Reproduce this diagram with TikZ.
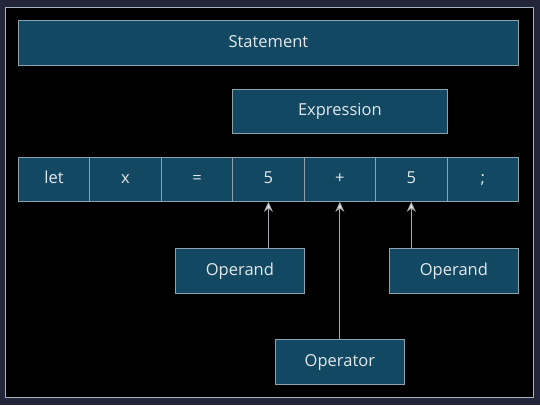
\documentclass[tikz,border=0pt]{standalone}
\usepackage{fontspec}
\setmainfont{Open Sans}
\usetikzlibrary{arrows.meta}
\definecolor{outerbg}{HTML}{23263A}
\definecolor{boxfill}{HTML}{134862}
\definecolor{boxline}{HTML}{8FA3AE}
\definecolor{txt}{HTML}{E2E8EC}
\definecolor{arr}{HTML}{A8ACB0}
\begin{document}
\begin{tikzpicture}[x=1pt,y=-1pt,
  box/.style={draw=boxline, fill=boxfill, line width=0.8pt, text=txt, font=\fontsize{16.5}{19}\selectfont, inner sep=0pt, text height=11.5pt, text depth=2.5pt, anchor=north west},
  arrowline/.style={draw=arr, line width=0.9pt, -{Stealth[length=10pt,width=9pt,fill=txt]}}]
\fill[outerbg] (0,0) rectangle (540,405);
\useasboundingbox (0,0) rectangle (540,405);
\draw[fill=black, draw=boxline!80, line width=0.6pt] (5,7) rectangle (533,397);
\node[box, minimum width=500pt, minimum height=45pt] (stmt) at (18,20) {Statement};
\node[box, minimum width=214.3pt, minimum height=44pt] (expr) at (232.3,89) {Expression};
\foreach \t [count=\i] in {let,x,=,5,+,5,;} {
  \node[box, minimum width=71.43pt, minimum height=44pt] (t\i) at ({18+(\i-1)*71.43},157) {\t};
}
\node[box, minimum width=129pt, minimum height=45pt] (opd1) at (175,248) {Operand};
\node[box, minimum width=129pt, minimum height=45pt] (opd2) at (389,248) {Operand};
\node[box, minimum width=129pt, minimum height=45pt] (opr) at (275,339) {Operator};
\draw[arrowline] (opd1.north -| t4.south) -- (t4.south);
\draw[arrowline] (opr.north -| t5.south) -- (t5.south);
\draw[arrowline] (opd2.north -| t6.south) -- (t6.south);
\end{tikzpicture}
\end{document}
